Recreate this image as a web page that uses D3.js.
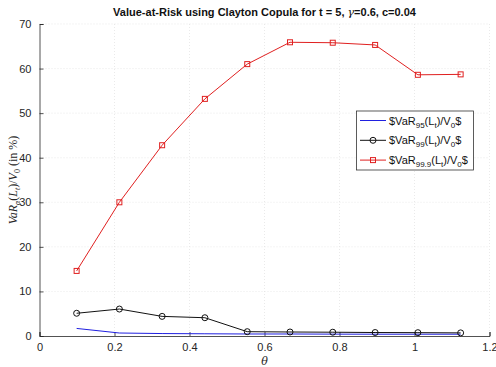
<!DOCTYPE html>
<html><head><meta charset="utf-8">
<script src="https://cdn.jsdelivr.net/npm/d3@7"></script>
<style>body{margin:0;background:#fff}svg{display:block}</style>
</head><body>
<svg id="c" width="496" height="367"></svg>
<script>
const theta = [0.099, 0.213, 0.327, 0.441, 0.554, 0.668, 0.782, 0.895, 1.009, 1.123];
const var95 = [1.7, 0.67, 0.55, 0.5, 0.45, 0.45, 0.42, 0.4, 0.4, 0.4];
const var99 = [5.1, 6.05, 4.4, 4.1, 0.97, 0.9, 0.85, 0.78, 0.75, 0.7];
const var999 = [14.6, 30.0, 42.8, 53.2, 61.0, 65.9, 65.8, 65.3, 58.6, 58.7];
const xTicks = [0, 0.2, 0.4, 0.6, 0.8, 1, 1.2];
const yTicks = [0, 10, 20, 30, 40, 50, 60, 70];

const svg = d3.select("#c");
const L = 39.5, R = 489.5, T = 24, B = 336;
const x = d3.scaleLinear().domain([0, 1.2]).range([L, R]);
const y = d3.scaleLinear().domain([0, 70]).range([B, T]);
const tc = "#262626";

// grid
const g = svg.append("g");
g.selectAll(".gx").data(xTicks.slice(1)).join("line")
  .attr("x1", d => x(d)).attr("x2", d => x(d)).attr("y1", T).attr("y2", B)
  .attr("stroke", "#dcdcdc").attr("stroke-width", 0.6).attr("stroke-dasharray", "1,2");
g.selectAll(".gy").data(yTicks.slice(1)).join("line")
  .attr("y1", d => y(d)).attr("y2", d => y(d)).attr("x1", L).attr("x2", R)
  .attr("stroke", "#dcdcdc").attr("stroke-width", 0.6).attr("stroke-dasharray", "1,2");

// axes
const xa = svg.append("g").attr("transform", `translate(0,${B})`)
  .call(d3.axisBottom(x).tickValues(xTicks).tickSize(-4).tickPadding(7).tickFormat(d3.format("")));
const ya = svg.append("g").attr("transform", `translate(${L},0)`)
  .call(d3.axisLeft(y).tickValues(yTicks).tickSize(-4).tickPadding(8));
[xa, ya].forEach(a => {
  a.select(".domain").attr("stroke", tc).attr("stroke-width", 0.8);
  a.selectAll(".tick line").attr("stroke", tc).attr("stroke-width", 0.8);
  a.selectAll("text").attr("fill", tc).attr("font-family", "Liberation Sans, Arial, sans-serif").attr("font-size", 11);
});

// lines
const line = (arr) => d3.line().x((d, i) => x(theta[i])).y(d => y(d))(arr);
svg.append("path").attr("d", line(var95)).attr("fill", "none").attr("stroke", "#2020e0").attr("stroke-width", 1);
svg.append("path").attr("d", line(var99)).attr("fill", "none").attr("stroke", "#111").attr("stroke-width", 1);
svg.selectAll(".c99").data(var99).join("circle")
  .attr("cx", (d, i) => x(theta[i])).attr("cy", d => y(d)).attr("r", 3)
  .attr("fill", "none").attr("stroke", "#111").attr("stroke-width", 1);
svg.append("path").attr("d", line(var999)).attr("fill", "none").attr("stroke", "#e02020").attr("stroke-width", 1);
svg.selectAll(".s999").data(var999).join("rect")
  .attr("x", (d, i) => x(theta[i]) - 2.5).attr("y", d => y(d) - 2.5).attr("width", 5).attr("height", 5)
  .attr("fill", "none").attr("stroke", "#e02020").attr("stroke-width", 1);

// title
const title = svg.append("text").attr("x", 264.5).attr("y", 16).attr("text-anchor", "middle")
  .attr("font-family", "Liberation Sans, Arial, sans-serif").attr("font-size", 11).attr("font-weight", "bold").attr("fill", "#111");
title.append("tspan").text("Value-at-Risk using Clayton Copula for t = 5, ");
title.append("tspan").attr("font-family", "DejaVu Serif, serif").attr("font-style", "italic").attr("font-weight", "normal").text("γ");
title.append("tspan").text("=0.6, c=0.04");

// x label
svg.append("text").attr("x", 264.5).attr("y", 365).attr("text-anchor", "middle")
  .attr("font-family", "DejaVu Serif, serif").attr("font-style", "italic").attr("font-size", 11).attr("fill", tc).text("θ");

// y label
const yl = svg.append("text").attr("transform", `translate(17,${(T + B) / 2}) rotate(-90)`).attr("text-anchor", "middle")
  .attr("font-family", "Liberation Serif, Times New Roman, serif").attr("font-size", 12).attr("fill", tc);
yl.append("tspan").attr("font-style", "italic").text("VaR");
yl.append("tspan").attr("font-style", "italic").attr("font-size", 8).attr("dy", 3).text("α");
yl.append("tspan").attr("dy", -3).text("(");
yl.append("tspan").attr("font-style", "italic").text("L");
yl.append("tspan").attr("font-style", "italic").attr("font-size", 8).attr("dy", 3).text("t");
yl.append("tspan").attr("dy", -3).text(")/");
yl.append("tspan").attr("font-style", "italic").text("V");
yl.append("tspan").attr("font-size", 8).attr("dy", 3).text("0");
yl.append("tspan").attr("dy", -3).text(" (in %)");

// legend
const lg = svg.append("g");
lg.append("rect").attr("x", 356.5).attr("y", 111).attr("width", 117).attr("height", 59)
  .attr("fill", "#fff").attr("stroke", "#333").attr("stroke-width", 0.8);
const entries = [
  { c: "#2020e0", sub: "95", m: null },
  { c: "#111", sub: "99", m: "circle" },
  { c: "#e02020", sub: "99.9", m: "rect" }
];
entries.forEach((e, i) => {
  const yy = 120.5 + i * 19.8;
  lg.append("line").attr("x1", 360).attr("x2", 386).attr("y1", yy).attr("y2", yy).attr("stroke", e.c).attr("stroke-width", 1);
  if (e.m === "circle") lg.append("circle").attr("cx", 373).attr("cy", yy).attr("r", 3).attr("fill", "none").attr("stroke", e.c);
  if (e.m === "rect") lg.append("rect").attr("x", 370.5).attr("y", yy - 2.5).attr("width", 5).attr("height", 5).attr("fill", "none").attr("stroke", e.c);
  const t = lg.append("text").attr("x", 389).attr("y", yy + 4).attr("font-family", "Liberation Sans, Arial, sans-serif").attr("font-size", 11).attr("fill", "#111");
  t.append("tspan").text("$VaR");
  t.append("tspan").attr("font-size", 8).attr("dy", 3).text(e.sub);
  t.append("tspan").attr("dy", -3).text("(L");
  t.append("tspan").attr("font-size", 8).attr("dy", 3).text("t");
  t.append("tspan").attr("dy", -3).text(")/V");
  t.append("tspan").attr("font-size", 8).attr("dy", 3).text("0");
  t.append("tspan").attr("dy", -3).text("$");
});
</script>
</body></html>
